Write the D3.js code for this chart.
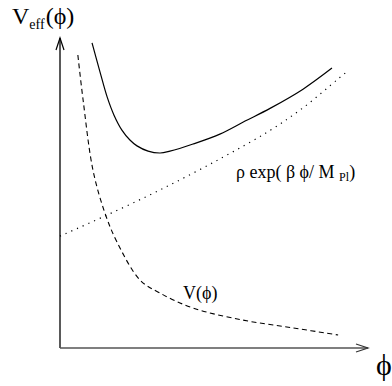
<!DOCTYPE html>
<html>
<head>
<meta charset="utf-8">
<script src="https://cdn.jsdelivr.net/npm/d3@7"></script>
<style>
body { margin: 0; background: #fff; }
text { font-family: "Liberation Serif", "Times New Roman", serif; fill: #000; }
</style>
</head>
<body>
<svg id="chart" width="392" height="386"></svg>
<script>
// values (arbitrary units, axes have no ticks)
var veffPhi = [1.04, 1.30, 1.53, 1.75, 2.01, 2.27, 2.50, 2.86, 3.25, 3.57, 4.32, 5.19, 6.01, 6.82, 7.89, 8.83];
var veffVal = [9.84, 8.90, 8.10, 7.52, 7.03, 6.71, 6.52, 6.35, 6.29, 6.35, 6.58, 6.90, 7.32, 7.73, 8.35, 9.03];

var vPhi = [0.58, 0.75, 1.07, 1.46, 1.85, 2.60, 3.25, 4.32, 5.94, 7.56, 9.03];
var vVal = [9.45, 8.00, 5.74, 4.35, 3.42, 2.19, 1.77, 1.29, 0.90, 0.65, 0.42];

var expPhi = [0, 1.40, 3.25, 5.19, 6.79, 7.92, 9.03, 9.35];
var expVal = [3.61, 4.23, 5.10, 6.10, 7.00, 7.77, 8.68, 8.94];

var svg = d3.select("#chart");

var x = d3.scaleLinear().domain([0, 10]).range([60, 368]),
    y = d3.scaleLinear().domain([0, 10]).range([348, 38]);

function pts(xs, ys) {
  return xs.map(function(d, i) { return [d, ys[i]]; });
}

var line = d3.line()
    .curve(d3.curveCatmullRom)
    .x(function(d) { return x(d[0]); })
    .y(function(d) { return y(d[1]); });

// axes
svg.append("line")
    .attr("x1", x(0)).attr("y1", y(0))
    .attr("x2", x(0)).attr("y2", y(10))
    .attr("stroke", "#000").attr("stroke-width", 1.3);
svg.append("path")
    .attr("d", "M" + (x(0) - 4) + "," + (y(10) + 12) + "L" + x(0) + "," + y(10) + "L" + (x(0) + 4) + "," + (y(10) + 12))
    .attr("fill", "none").attr("stroke", "#000").attr("stroke-width", 1.2);

svg.append("line")
    .attr("x1", x(0)).attr("y1", y(0))
    .attr("x2", x(10)).attr("y2", y(0))
    .attr("stroke", "#555").attr("stroke-width", 1.6);
svg.append("path")
    .attr("d", "M" + (x(10) - 12) + "," + (y(0) - 4) + "L" + x(10) + "," + y(0) + "L" + (x(10) - 12) + "," + (y(0) + 4))
    .attr("fill", "none").attr("stroke", "#333").attr("stroke-width", 1.2);

// curves
svg.append("path")
    .datum(pts(expPhi, expVal))
    .attr("d", line)
    .attr("fill", "none").attr("stroke", "#000").attr("stroke-width", 1.2)
    .attr("stroke-dasharray", "1.2,5");

svg.append("path")
    .datum(pts(vPhi, vVal))
    .attr("d", line)
    .attr("fill", "none").attr("stroke", "#000").attr("stroke-width", 1.1)
    .attr("stroke-dasharray", "5,3.5");

svg.append("path")
    .datum(pts(veffPhi, veffVal))
    .attr("d", line)
    .attr("fill", "none").attr("stroke", "#000").attr("stroke-width", 1.2);

// labels
var t1 = svg.append("text").attr("x", 12).attr("y", 24).style("font-size", "24px");
t1.append("tspan").text("V");
t1.append("tspan").attr("dy", 5).style("font-size", "14px").text("eff");
t1.append("tspan").attr("dy", -5).attr("dx", 1).text("(ϕ)");

svg.append("text").attr("x", 376).attr("y", 375).style("font-size", "30px").text("ϕ");

svg.append("text").attr("x", 183).attr("y", 299).style("font-size", "18px").text("V(ϕ)");

var t2 = svg.append("text").attr("x", 236).attr("y", 178).style("font-size", "18px");
t2.append("tspan").text("ρ exp( β ϕ/  M ");
t2.append("tspan").attr("dy", 3).style("font-size", "12px").text("Pl");
t2.append("tspan").attr("dy", -3).text(")");
</script>
</body>
</html>
